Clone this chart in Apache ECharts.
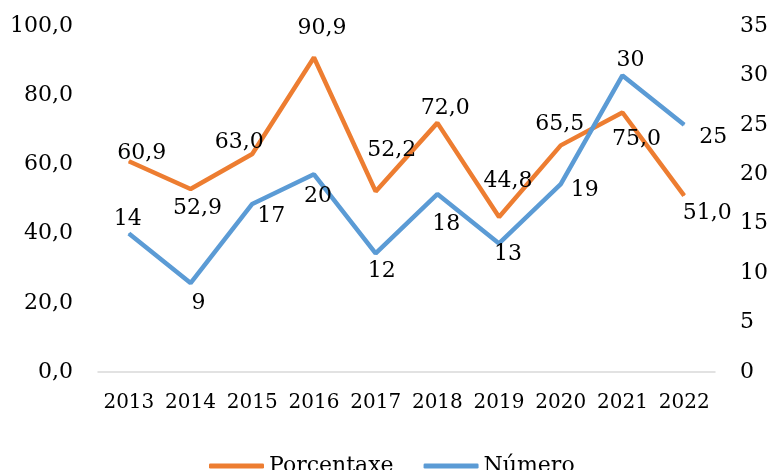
<!DOCTYPE html>
<html>
<head>
<meta charset="utf-8">
<script src="https://cdn.jsdelivr.net/npm/echarts@6/dist/echarts.min.js"></script>
<style>
  html, body { margin: 0; padding: 0; background: #fff; }
  #main { width: 771px; height: 470px; }
</style>
</head>
<body>
<div id="main"></div>
<script>
var years = ['2013', '2014', '2015', '2016', '2017', '2018', '2019', '2020', '2021', '2022'];
var porcentaxe = [60.9, 52.9, 63.0, 90.9, 52.2, 72.0, 44.8, 65.5, 75.0, 51.0];
var numero = [14, 9, 17, 20, 12, 18, 13, 19, 30, 25];

// where each label sits relative to its point, as in the original
var offPct = [[13, -8], [7, 19], [-13, -12], [8, -29], [16, -41], [8, -15], [9, -36], [-1, -21], [14, 27], [23, 18]];
var offNum = [[-1, -14], [8, 20], [19, 12], [4, 22], [6, 18], [9, 30], [9, 11], [24, 6], [8, -15], [29, 12]];

var font = 'DejaVu Serif';
function comma(v) { return v.toFixed(1).replace('.', ','); }

function withLabels(vals, offs, fmt) {
    return vals.map(function (v, i) {
        return { value: v, label: { offset: offs[i], formatter: fmt } };
    });
}

var myChart = echarts.init(document.getElementById('main'));
var option = {
    animation: false,
    textStyle: { fontFamily: font },
    grid: { left: 98, right: 54, top: 26, bottom: 98 },
    legend: {
        left: 204, top: 450,
        icon: 'roundRect', itemWidth: 55, itemHeight: 5, itemGap: 30,
        textStyle: { fontFamily: font, fontSize: 22, color: '#000' },
        data: ['Porcentaxe', 'Número']
    },
    xAxis: {
        type: 'category',
        data: years,
        axisTick: { show: false },
        axisLine: { lineStyle: { color: '#d9d9d9', width: 1.5 } },
        axisLabel: { color: '#000', fontSize: 20, margin: 21, fontFamily: font, interval: 0 }
    },
    yAxis: [{
        type: 'value', min: 0, max: 100, interval: 20,
        splitLine: { show: false },
        axisLabel: { color: '#000', fontSize: 22, margin: 25, fontFamily: font,
            formatter: function (v) { return comma(v); } }
    }, {
        type: 'value', min: 0, max: 35, interval: 5,
        splitLine: { show: false },
        axisLabel: { color: '#000', fontSize: 22, margin: 25, fontFamily: font }
    }],
    series: [{
        name: 'Porcentaxe',
        type: 'line',
        yAxisIndex: 0,
        symbol: 'circle',
        symbolSize: 1,
        color: '#ed7d31',
        lineStyle: { width: 4.5, color: '#ed7d31' },
        label: { show: true, position: 'inside', color: '#000', fontSize: 22, fontFamily: font },
        data: withLabels(porcentaxe, offPct, function (p) { return comma(p.value); })
    }, {
        name: 'Número',
        type: 'line',
        yAxisIndex: 1,
        symbol: 'circle',
        symbolSize: 1,
        color: '#5b9bd5',
        lineStyle: { width: 4.5, color: '#5b9bd5' },
        label: { show: true, position: 'inside', color: '#000', fontSize: 22, fontFamily: font },
        data: withLabels(numero, offNum, function (p) { return String(p.value); })
    }]
};
myChart.setOption(option);
</script>
</body>
</html>
